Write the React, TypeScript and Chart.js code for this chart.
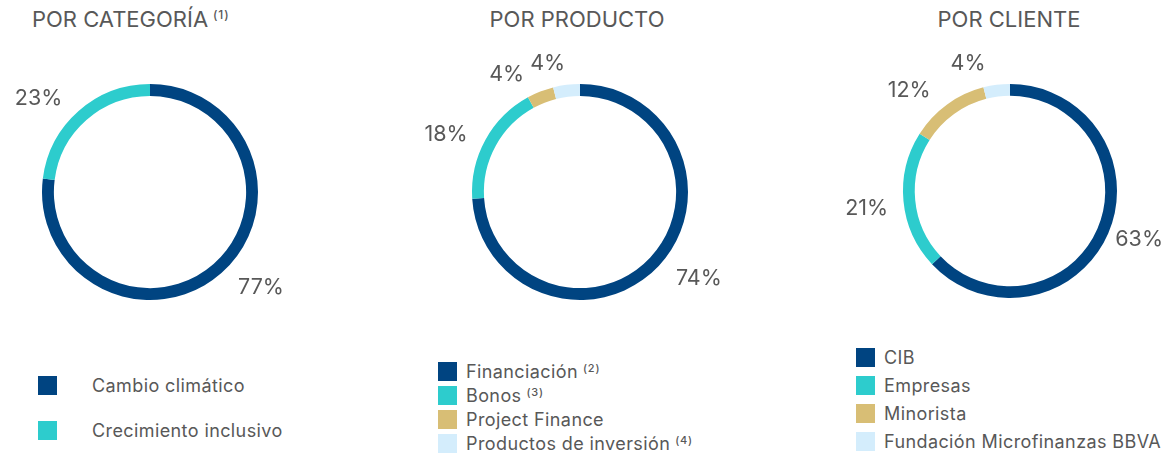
import React, { useEffect, useRef } from "react";
import { Chart, registerables } from "chart.js";

Chart.register(...registerables);

const palette = ["#004481", "#2DCCCD", "#D8BE75", "#D4EDFC"];

const categoriaTitle = "POR CATEGORÍA";
const categoriaTitleNote = "(1)";
const categoriaLabels = ["Cambio climático", "Crecimiento inclusivo"];
const categoriaNotes = ["", ""];
const categoriaValues = [77, 23];

const productoTitle = "POR PRODUCTO";
const productoLabels = ["Financiación", "Bonos", "Project Finance", "Productos de inversión"];
const productoNotes = ["(2)", "(3)", "", "(4)"];
const productoValues = [74, 18, 4, 4];

const clienteTitle = "POR CLIENTE";
const clienteLabels = ["CIB", "Empresas", "Minorista", "Fundación Microfinanzas BBVA"];
const clienteNotes = ["", "", "", ""];
const clienteValues = [63, 21, 12, 4];

const FONT = "Inter, Roboto, sans-serif";
const TEXT = "#585858";
const PAGE_W = 1169;

const LABEL_GAP = 15;
const LABEL_TURN = (-11 * Math.PI) / 180;
const LABEL_H = 16;
const LABEL_PAD = 6;

const outerLabels = {
  id: "outerLabels",
  afterDatasetsDraw(chart: any, _args: any, opts: any) {
    const ctx = chart.ctx;
    const meta = chart.getDatasetMeta(0);
    const data = chart.data.datasets[0].data;
    ctx.save();
    ctx.font = `400 21.5px ${FONT}`;
    ctx.fillStyle = TEXT;
    ctx.textBaseline = "middle";
    ctx.textAlign = "center";
    const placed: { x: number; y: number; w: number }[] = [];
    meta.data.forEach((arc: any, i: number) => {
      const p = arc.getProps(["x", "y", "startAngle", "endAngle", "outerRadius"], true);
      const mid = (p.startAngle + p.endAngle) / 2;
      const a = mid + LABEL_TURN * Math.abs(Math.sin(mid));
      const ux = Math.cos(a);
      const uy = Math.sin(a);
      const text = `${data[i]}%`;
      const w = ctx.measureText(text).width;
      const dist = p.outerRadius + LABEL_GAP + (w / 2) * Math.abs(ux) + (LABEL_H / 2) * Math.abs(uy);
      let x = p.x + ux * dist;
      const y = p.y + uy * dist;
      placed.forEach((q) => {
        const overlapY = Math.abs(q.y - y) < LABEL_H + 2;
        const need = (q.w + w) / 2 + LABEL_PAD;
        if (overlapY && Math.abs(q.x - x) < need) {
          x = x >= q.x ? q.x + need : q.x - need;
        }
      });
      if (opts && typeof opts.maxRight === "number") x = Math.min(x, opts.maxRight - w / 2);
      if (opts && typeof opts.minLeft === "number") x = Math.max(x, opts.minLeft + w / 2);
      placed.push({ x, y, w });
      ctx.fillText(text, x, y + 1);
    });
    ctx.restore();
  },
};

type DonutProps = {
  values: number[];
  labels: string[];
  cx: number;
  cy: number;
  radius: number;
};

const CW = 420;
const CH = 300;

function Donut({ values, labels, cx, cy, radius }: DonutProps) {
  const ref = useRef<HTMLCanvasElement>(null);
  useEffect(() => {
    if (!ref.current) return;
    const padX = CW / 2 - radius;
    const padY = CH / 2 - radius;
    const offset = cx - CW / 2;
    const chart = new Chart(ref.current, {
      type: "doughnut",
      data: {
        labels,
        datasets: [
          {
            data: values,
            backgroundColor: palette.slice(0, values.length),
            borderWidth: 0,
          },
        ],
      },
      options: {
        responsive: false,
        animation: false,
        cutout: "89%",
        layout: { padding: { left: padX, right: padX, top: padY, bottom: padY } },
        plugins: {
          legend: { display: false },
          tooltip: { enabled: false },
          outerLabels: { maxRight: PAGE_W - 6 - offset, minLeft: 6 - offset },
        } as any,
      },
      plugins: [outerLabels],
    });
    return () => chart.destroy();
  }, [values, labels, radius, cx]);
  return (
    <canvas
      ref={ref}
      width={CW}
      height={CH}
      style={{ position: "absolute", left: cx - CW / 2, top: cy - CH / 2, width: CW, height: CH }}
    />
  );
}

function Note({ text, size, lift, gap }: { text: string; size: number; lift: number; gap: number }) {
  if (!text) return null;
  return (
    <span style={{ fontSize: size, position: "relative", top: -lift, marginLeft: gap, fontWeight: 500, letterSpacing: 0.8 }}>
      {text}
    </span>
  );
}

type LegendProps = {
  labels: string[];
  notes: string[];
  left: number;
  top: number;
  step: number;
  textLeft: number;
};

function Legend({ labels, notes, left, top, step, textLeft }: LegendProps) {
  return (
    <>
      {labels.map((l, i) => (
        <div
          key={l}
          style={{
            position: "absolute",
            left,
            top: top + i * step,
            height: 19,
            whiteSpace: "nowrap",
          }}
        >
          <div style={{ width: 19, height: 19, background: palette[i] }} />
          <div
            style={{
              position: "absolute",
              left: textLeft - left,
              top: 0,
              lineHeight: "19px",
              fontSize: 18,
              color: TEXT,
              fontFamily: FONT,
              letterSpacing: 0.4,
            }}
          >
            {l}
            <Note text={notes[i]} size={11} lift={6} gap={5} />
          </div>
        </div>
      ))}
    </>
  );
}

function Title({ text, note, left, center }: { text: string; note?: string; left?: number; center?: number }) {
  const style: React.CSSProperties = {
    position: "absolute",
    top: 7.5,
    lineHeight: "23px",
    fontSize: 22,
    fontFamily: FONT,
    color: TEXT,
    whiteSpace: "nowrap",
  };
  if (left !== undefined) style.left = left;
  if (center !== undefined) {
    style.left = center;
    style.transform = "translateX(-50%)";
  }
  return (
    <div style={style}>
      {text}
      {note ? <Note text={note} size={12} lift={8} gap={5} /> : null}
    </div>
  );
}

export default function App() {
  return (
    <div
      style={{
        position: "fixed",
        left: 0,
        top: 0,
        width: PAGE_W,
        height: 453,
        overflow: "hidden",
        background: "#ffffff",
        fontFamily: FONT,
      }}
    >
      <Title text={categoriaTitle} note={categoriaTitleNote} left={32} />
      <Title text={productoTitle} center={577} />
      <Title text={clienteTitle} center={1009} />

      <Donut values={categoriaValues} labels={categoriaLabels} cx={149.5} cy={191.5} radius={108} />
      <Donut values={productoValues} labels={productoLabels} cx={579.5} cy={191.5} radius={108} />
      <Donut values={clienteValues} labels={clienteLabels} cx={1010} cy={190.5} radius={107} />

      <Legend labels={categoriaLabels} notes={categoriaNotes} left={38} top={376} step={45} textLeft={92} />
      <Legend labels={productoLabels} notes={productoNotes} left={438} top={362} step={24} textLeft={466} />
      <Legend labels={clienteLabels} notes={clienteNotes} left={856} top={348} step={28} textLeft={884} />
    </div>
  );
}
